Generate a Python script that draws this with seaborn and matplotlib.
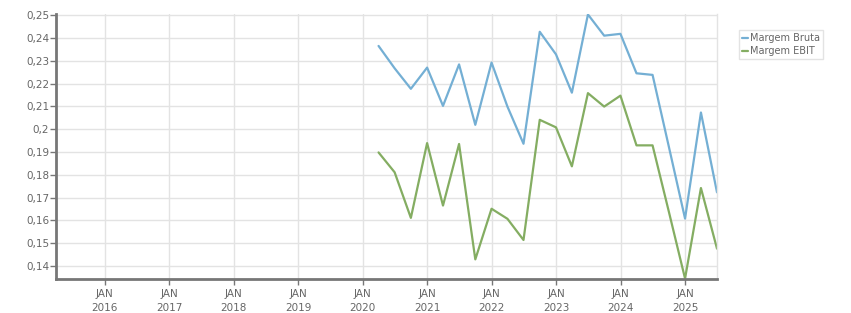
import numpy as np
import pandas as pd
import matplotlib
matplotlib.use("Agg")
import matplotlib.pyplot as plt
import matplotlib.dates as mdates
import seaborn as sns

# quarterly margins, Q1 2020 .. Q2 2025
quarters = pd.date_range("2020-03-31", "2025-06-30", freq="QE")
margem_bruta = [0.2365, 0.2267, 0.2177, 0.2270, 0.2102, 0.2284, 0.2019, 0.2292,
                0.2099, 0.1936, 0.2427, 0.2328, 0.2160, 0.2503, 0.2410, 0.2418,
                0.2245, 0.2238, 0.1924, 0.1608, 0.2073, 0.1723]
margem_ebit = [0.1898, 0.1811, 0.1611, 0.1939, 0.1665, 0.1935, 0.1429, 0.1651,
               0.1607, 0.1514, 0.2041, 0.2008, 0.1837, 0.2158, 0.2099, 0.2147,
               0.1929, 0.1929, 0.1639, 0.1345, 0.1742, 0.1476]
y_ticks = [0.14, 0.15, 0.16, 0.17, 0.18, 0.19, 0.20, 0.21, 0.22, 0.23, 0.24, 0.25]
years = list(range(2016, 2026))

df = pd.DataFrame({
    "data": list(quarters) * 2,
    "valor": margem_bruta + margem_ebit,
    "serie": ["Margem Bruta"] * len(quarters) + ["Margem EBIT"] * len(quarters),
})

sns.set_theme(style="whitegrid")
plt.rcParams["font.family"] = ["DejaVu Sans"]

fig = plt.figure(figsize=(8.51, 3.13), dpi=100)
ax = fig.add_axes([56 / 851, 34 / 313, 661 / 851, 265 / 313])

palette = {"Margem Bruta": "#74afd4", "Margem EBIT": "#84ad62"}
sns.lineplot(data=df, x="data", y="valor", hue="serie", palette=palette,
             linewidth=1.6, ax=ax, legend=True)

ax.set_xlim(pd.Timestamp("2015-03-31"), pd.Timestamp("2025-06-30"))
ax.set_ylim(0.1343, 0.2505)
ax.set_yticks(y_ticks)
ax.set_yticklabels([f"{v:g}".replace(".", ",") for v in y_ticks])
ax.set_xticks([pd.Timestamp(f"{y}-01-01") for y in years])
ax.set_xticklabels([f"JAN\n{y}" for y in years])
ax.set_xlabel("")
ax.set_ylabel("")

ax.grid(True, color="#e3e3e3", linewidth=1)
ax.set_facecolor("white")
ax.spines["top"].set_visible(False)
ax.spines["right"].set_color("#e3e3e3")
ax.spines["right"].set_linewidth(1)
for side in ["left", "bottom"]:
    ax.spines[side].set_color("#777777")
    ax.spines[side].set_linewidth(2)
ax.tick_params(axis="both", colors="#777777", labelcolor="#666666",
               labelsize=7.5, length=4, width=1, direction="out")
ax.tick_params(axis="y", left=True, pad=1)
ax.tick_params(axis="x", bottom=True, pad=3)
for lbl in ax.get_xticklabels():
    lbl.set_linespacing(1.5)

leg = ax.legend(loc="upper left", bbox_to_anchor=(739 / 851, 1 - 30 / 313),
                bbox_transform=fig.transFigure, frameon=True, fontsize=7,
                handlelength=0.6, handletextpad=0.2, borderpad=0.3,
                labelspacing=0.35, fancybox=False, borderaxespad=0)
leg.get_frame().set_edgecolor("#dddddd")
leg.get_frame().set_linewidth(1)
for t in leg.get_texts():
    t.set_color("#666666")

fig.savefig("out.png", dpi=100)
